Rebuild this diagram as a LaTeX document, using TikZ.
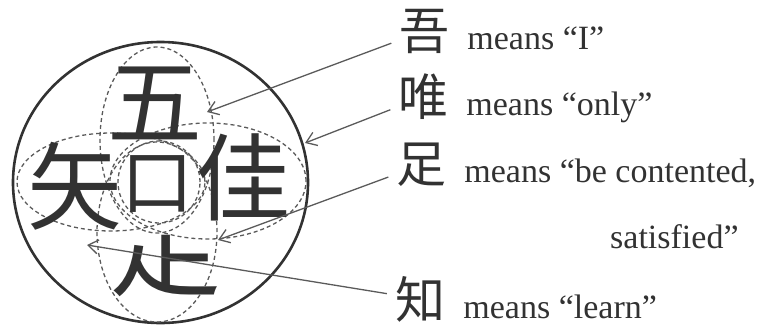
\documentclass[tikz,border=0pt]{standalone}
\usepackage{fontspec}
\setmainfont{Liberation Serif}
\newfontfamily\cjk{Noto Sans CJK SC}
\usepackage{tikz}
\usetikzlibrary{arrows.meta, positioning}
\definecolor{inkgray}{RGB}{50,50,50}
\definecolor{linegray}{RGB}{90,90,90}

\begin{document}
\begin{tikzpicture}[
  x=1pt, y=-1pt,
  node distance=18pt,
  part/.style={inner sep=0pt, text=inkgray, font=\cjk\fontsize{95}{95}\selectfont},
  hanzi/.style={inner sep=0pt, text=inkgray, font=\cjk\fontsize{50}{50}\selectfont},
  meaning/.style={inner sep=0pt, text=inkgray, font=\fontsize{34}{40}\selectfont},
  group/.style={draw=linegray, line width=1.3pt, dash pattern=on 4pt off 3pt},
  pointer/.style={-{Straight Barb[length=10pt, width=14pt]}, line width=1.3pt,
                  draw=linegray, shorten <=8pt},
]
\useasboundingbox (0,0) rectangle (759,324);

\draw[inkgray, line width=2.6pt] (160.5,182.5) ellipse [x radius=147.5pt, y radius=140.5pt];
\draw[group] (157,140) ellipse [x radius=57pt, y radius=93pt];
\draw[group] (157,232) ellipse [x radius=60pt, y radius=90pt];
\draw[group] (111,182) ellipse [x radius=94pt, y radius=49pt];
\draw[group] (208,181) ellipse [x radius=98pt, y radius=58pt];
\draw[group] (159,182) circle [radius=41pt];

\node[part] (wu) at (155,103) {五};
\node[part] (shi) at (75,186) {矢};
\node[part, font=\cjk\fontsize{72}{72}\selectfont] (kou) at (157,184) {口};
\node[part] (jia) at (243,177) {佳};
\node[part, font=\cjk\fontsize{112}{112}\selectfont] (zhi) at (165,266) {龰};

\node[hanzi] (wuL) at (424,31) {吾};
\node[hanzi] (weiL) at (423,97) {唯};
\node[hanzi] (zuL) at (421,165) {足};
\node[hanzi] (zhiL) at (420,299) {知};

\node[meaning, right=of wuL.base east, anchor=base west] (wuM) {means “I”};
\node[meaning, right=of weiL.base east, anchor=base west] (weiM) {means “only”};
\node[meaning, right=of zuL.base east, anchor=base west] (zuM) {means “be contented,};
\node[meaning, anchor=base west] (zuM2) at (610,248) {satisfied”};
\node[meaning, right=of zhiL.base east, anchor=base west] (zhiM) {means “learn”};

\coordinate (wuTip) at (207,112);
\coordinate (weiTip) at (305,143);
\coordinate (zuTip) at (218,240);
\coordinate (zhiTip) at (87,245);

\draw[pointer] (wuL) -- (wuTip);
\draw[pointer] (weiL) -- (weiTip);
\draw[pointer] (zuL) -- (zuTip);
\draw[pointer] (zhiL) -- (zhiTip);
\end{tikzpicture}
\end{document}
